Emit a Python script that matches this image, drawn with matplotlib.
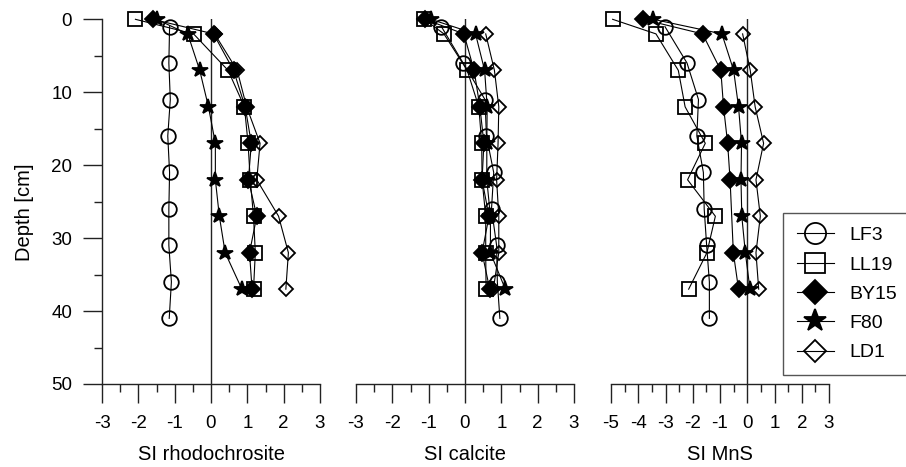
import numpy as np
import matplotlib
matplotlib.use('Agg')
import matplotlib.pyplot as plt
from matplotlib.ticker import MultipleLocator

plt.rcParams['font.family'] = ['Liberation Sans', 'DejaVu Sans']

# Depths [cm] of each core
depth_lf3 = [1, 6, 11, 16, 21, 26, 31, 36, 41]
depth_ll19 = [0, 2, 7, 12, 17, 22, 27, 32, 37]
depth_by15 = [0, 2, 7, 12, 17, 22, 27, 32, 37]
depth_f80 = [0, 2, 7, 12, 17, 22, 27, 32, 37]
depth_ld1 = [2, 7, 12, 17, 22, 27, 32, 37]
depth_by15_mns = [0, 2, 7, 12, 17, 22, 32, 37]

# SI rhodochrosite
rho_lf3 = [-1.14, -1.16, -1.12, -1.19, -1.14, -1.16, -1.16, -1.09, -1.15]
rho_ll19 = [-2.08, -0.48, 0.47, 0.92, 1.02, 1.08, 1.17, 1.22, 1.17]
rho_by15 = [-1.6, 0.07, 0.62, 0.94, 1.11, 1.03, 1.26, 1.06, 1.13]
rho_f80 = [-1.5, -0.64, -0.31, -0.07, 0.12, 0.12, 0.23, 0.39, 0.85]
rho_ld1 = [0.1, 0.72, 0.98, 1.35, 1.26, 1.86, 2.13, 2.06]

# SI calcite
cal_lf3 = [-0.65, -0.05, 0.55, 0.59, 0.79, 0.73, 0.87, 0.89, 0.96]
cal_ll19 = [-1.12, -0.58, 0.06, 0.38, 0.46, 0.47, 0.57, 0.57, 0.58]
cal_by15 = [-1.1, -0.03, 0.25, 0.41, 0.52, 0.47, 0.66, 0.47, 0.68]
cal_f80 = [-0.94, 0.29, 0.54, 0.61, 0.6, 0.6, 0.7, 0.7, 1.11]
cal_ld1 = [0.57, 0.81, 0.93, 0.91, 0.87, 0.93, 0.93, 0.78]

# SI MnS
mns_lf3 = [-3.02, -2.21, -1.79, -1.85, -1.61, -1.58, -1.49, -1.39, -1.39]
mns_ll19 = [-4.94, -3.35, -2.53, -2.28, -1.54, -2.19, -1.17, -1.48, -2.15]
mns_by15 = [-3.84, -1.64, -0.97, -0.87, -0.72, -0.63, -0.51, -0.32]
mns_f80 = [-3.45, -0.93, -0.5, -0.32, -0.21, -0.23, -0.2, -0.07, 0.1]
mns_ld1 = [-0.17, 0.11, 0.29, 0.6, 0.32, 0.48, 0.32, 0.42]

labels = ['LF3', 'LL19', 'BY15', 'F80', 'LD1']
xlabels = ['SI rhodochrosite', 'SI calcite', 'SI MnS']
xlims = [(-3, 3), (-3, 3), (-5, 3)]

panels = [
    [(rho_lf3, depth_lf3), (rho_ll19, depth_ll19), (rho_by15, depth_by15),
     (rho_f80, depth_f80), (rho_ld1, depth_ld1)],
    [(cal_lf3, depth_lf3), (cal_ll19, depth_ll19), (cal_by15, depth_by15),
     (cal_f80, depth_f80), (cal_ld1, depth_ld1)],
    [(mns_lf3, depth_lf3), (mns_ll19, depth_ll19), (mns_by15, depth_by15_mns),
     (mns_f80, depth_f80), (mns_ld1, depth_ld1)],
]

styles = [
    dict(marker='o', ms=10.5, mfc='none'),
    dict(marker='s', ms=10, mfc='none'),
    dict(marker='D', ms=8.5, mfc='black'),
    dict(marker='*', ms=11.5, mfc='black'),
    dict(marker='D', ms=7.5, mfc='none'),
]

W, H = 906, 467
fig = plt.figure(figsize=(W/100, H/100), dpi=100)

lefts = [102, 356, 611]
pw = 218
bottom = (H - 384)/H
height = (384 - 19.3)/H

axes = []
for i, left in enumerate(lefts):
    ax = fig.add_axes([left/W, bottom, pw/W, height])
    axes.append(ax)
    ax.set_xlim(*xlims[i])
    ax.set_ylim(50, 0)
    ax.axvline(0, ymin=0, ymax=1, color='#222222', linewidth=1.0, zorder=1)
    handles = []
    for (xs, ys), st in zip(panels[i], styles):
        h, = ax.plot(xs, ys, color='black', linewidth=0.8, mec='black',
                     mew=1.3, clip_on=False, zorder=3, **st)
        handles.append(h)
    for side in ['top', 'right']:
        ax.spines[side].set_visible(False)
    ax.spines['bottom'].set_linewidth(1.0)
    ax.spines['bottom'].set_color('#222222')
    ax.xaxis.set_minor_locator(MultipleLocator(0.5))
    ax.tick_params(axis='x', which='major', direction='out', length=13.5,
                   width=1.0, pad=9, labelsize=13.5, color='#222222')
    ax.tick_params(axis='x', which='minor', direction='out', length=5.5,
                   width=1.0, color='#222222')
    ticks = np.arange(xlims[i][0], xlims[i][1] + 1)
    ax.set_xticks(ticks)
    ax.set_xticklabels([str(int(v)) for v in ticks])
    ax.set_xlabel(xlabels[i], fontsize=14.5, labelpad=9)
    if i == 0:
        ax.spines['left'].set_linewidth(1.0)
        ax.spines['left'].set_color('#222222')
        ax.yaxis.set_major_locator(MultipleLocator(10))
        ax.yaxis.set_minor_locator(MultipleLocator(5))
        ax.tick_params(axis='y', which='major', direction='out', length=13.5,
                       width=1.0, pad=8, labelsize=13.5, color='#222222')
        ax.tick_params(axis='y', which='minor', direction='out', length=5.5,
                       width=1.0, color='#222222')
        ax.set_ylabel('Depth [cm]', fontsize=14.5)
        ax.yaxis.set_label_coords(-0.31, 0.47)
    else:
        ax.spines['left'].set_visible(False)
        ax.tick_params(axis='y', which='both', left=False, labelleft=False)

leg = fig.legend(handles, labels, loc='upper left',
                 bbox_to_anchor=(783/W, 1 - 213/H), borderaxespad=0,
                 fontsize=14, markerscale=1.45, handlelength=1.9,
                 handletextpad=0.8, labelspacing=0.6, borderpad=0.7,
                 fancybox=False, framealpha=1, edgecolor='#555555')
leg.get_frame().set_linewidth(1.0)

fig.savefig('out.png', dpi=100)
